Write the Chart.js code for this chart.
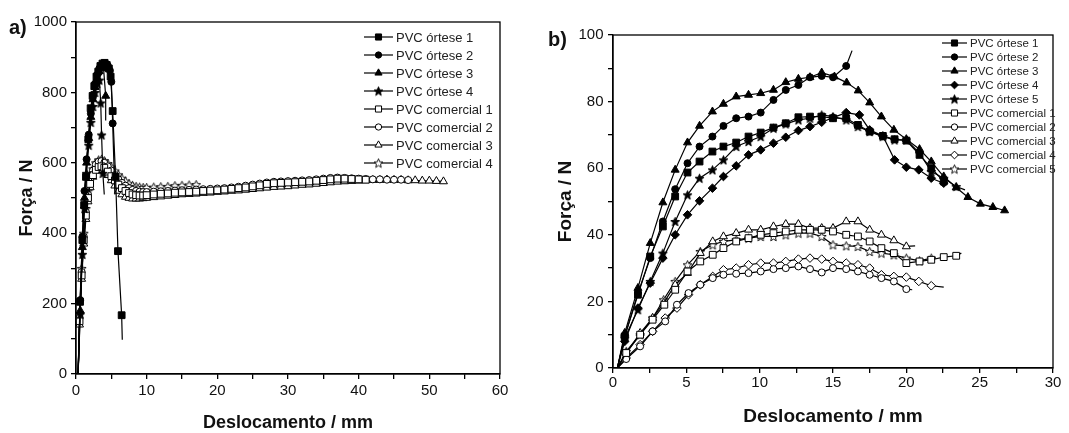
<!DOCTYPE html>
<html>
<head>
<meta charset="utf-8">
<script src="https://cdn.jsdelivr.net/npm/chart.js@4.4.1/dist/chart.umd.min.js"></script>
<style>
  html, body { margin: 0; padding: 0; background: #fff; }
  body { width: 1069px; height: 433px; position: relative; overflow: hidden; font-family: "Liberation Sans", Arial, sans-serif; }
  #wrapA { position: absolute; left: 0; top: 0; width: 540px; height: 433px; }
  #wrapB { position: absolute; left: 540px; top: 0; width: 529px; height: 433px; }
  .tag { position: absolute; font-weight: bold; font-size: 20px; color: #111; line-height: 1; }
</style>
</head>
<body>
<div id="wrapA"><canvas id="chartA" width="540" height="433"></canvas></div>
<div id="wrapB"><canvas id="chartB" width="529" height="433"></canvas></div>
<div class="tag" style="left:9px;top:17px">a)</div>
<div class="tag" style="left:548px;top:29px">b)</div>
<script>
// ---------- panel a) data ----------
var aLabels = ['PVC órtese 1', 'PVC órtese 2', 'PVC órtese 3', 'PVC órtese 4',
               'PVC comercial 1', 'PVC comercial 2', 'PVC comercial 3', 'PVC comercial 4'];

var aOrt1X = [0.3, 0.57, 0.9, 1.15, 1.41, 1.74, 2.07, 2.35, 2.59, 2.9, 3.15, 3.45, 3.75, 4.05, 4.35, 4.65, 4.9, 5.19, 5.6, 5.94, 6.46, 6.55];
var aOrt1Y = [0, 205, 380, 480, 560, 667, 755, 790, 818, 845, 859, 875, 882, 884, 878, 868, 845, 747, 560, 349, 167, 97];
var aOrt2X = [0.3, 0.6, 0.9, 1.2, 1.5, 1.8, 2.1, 2.4, 2.7, 3.0, 3.3, 3.6, 3.9, 4.2, 4.5, 4.8, 5.0, 5.19, 5.5];
var aOrt2Y = [0, 210, 390, 520, 610, 680, 740, 790, 825, 850, 868, 878, 882, 882, 876, 862, 830, 712, 510];
var aOrt3X = [0.3, 0.6, 0.9, 1.2, 1.5, 1.8, 2.1, 2.4, 2.7, 3.0, 3.3, 3.6, 3.9, 4.2, 4.2];
var aOrt3Y = [0, 180, 360, 500, 600, 670, 730, 780, 815, 840, 860, 870, 868, 790, 720];
var aOrt4X = [0.3, 0.6, 0.9, 1.2, 1.5, 1.8, 2.1, 2.4, 2.7, 3.0, 3.3, 3.5, 3.62, 3.8, 4.0];
var aOrt4Y = [0, 170, 340, 470, 570, 650, 715, 760, 800, 825, 835, 770, 679, 570, 510];

// shared displacement grid of the commercial samples (each series uses its first n values)
var aComX = [0.3, 0.5, 0.8, 1.1, 1.4, 1.7, 2.0, 2.4, 2.8, 3.2, 3.6, 4.0, 4.5, 5.0, 5.5, 6.0, 6.5, 7.0, 7.5, 8.0, 8.5, 9.0, 9.5, 10,
             11, 12, 13, 14, 15, 16, 17, 18, 19, 20, 21, 22, 23, 24, 25, 26, 27, 28, 29, 30, 31,
             32, 33, 34, 35, 36, 37, 38, 39, 40, 41, 42, 43, 44, 45, 46, 47, 48, 49, 50, 51, 52];
var aCom1Y = [0, 150, 280, 380, 450, 500, 540, 565, 580, 588, 590, 586, 575, 562, 550, 538, 528, 520, 514, 510, 508, 507, 507, 508,
              510, 512, 513, 515, 516, 517, 518, 520, 521, 522, 524, 526, 528, 530, 533, 536, 540, 542, 543, 544,
              545, 546, 547, 549, 551, 553, 555, 555, 554, 553, 552];
var aCom2Y = [0, 160, 290, 390, 460, 510, 550, 578, 595, 603, 605, 600, 590, 578, 565, 553, 543, 535, 528, 523, 520, 518, 517, 517,
              518, 519, 520, 521, 522, 523, 524, 525, 526, 527, 528, 530, 532, 535, 538, 541, 544, 546, 547, 548,
              549, 550, 551, 553, 555, 557, 558, 557, 556, 555, 554, 553, 553, 552, 552, 552, 551];
var aCom3Y = [0, 140, 270, 370, 440, 490, 530, 560, 578, 585, 585, 578, 565, 550, 535, 520, 510, 503, 500, 498, 498, 498, 499, 500,
              502, 504, 506, 508, 510, 511, 512, 514, 515, 517, 518, 520, 521, 523, 525, 527, 529, 531, 532, 533,
              535, 537, 538, 540, 542, 544, 546, 547, 548, 549, 550, 551, 551, 552, 551, 551, 550, 550, 549, 549, 548, 547];
var aCom4Y = [0, 170, 300, 400, 470, 520, 555, 583, 600, 608, 610, 606, 598, 588, 577, 566, 556, 548, 541, 536, 533, 531, 530, 530,
              531, 532, 533, 535, 536, 537, 538];

var aXTicks = [0, 10, 20, 30, 40, 50, 60];
var aYTicks = [0, 200, 400, 600, 800, 1000];

// ---------- panel b) data ----------
var bLabels = ['PVC órtese 1', 'PVC órtese 2', 'PVC órtese 3', 'PVC órtese 4', 'PVC órtese 5',
               'PVC comercial 1', 'PVC comercial 2', 'PVC comercial 3', 'PVC comercial 4', 'PVC comercial 5'];

var bOrt1X = [0.3, 0.8, 1.7, 2.54, 3.4, 4.24, 5.08, 5.9, 6.78, 7.53, 8.4, 9.24, 10.07, 10.94, 11.78, 12.64, 13.43, 14.23, 15.0, 15.9, 16.7, 17.5, 18.4, 19.2, 20.0, 20.9, 21.7, 22.55];
var bOrt1Y = [0, 9.5, 22, 33.5, 42.5, 51.5, 58.7, 62, 65, 66.5, 67.7, 69.5, 70.7, 72.2, 73.5, 75.3, 75.5, 75.5, 75, 75, 73, 71, 69.7, 68.7, 68.3, 64, 60, 56];
var bOrt2X = [0.3, 0.8, 1.7, 2.54, 3.4, 4.24, 5.08, 5.9, 6.78, 7.53, 8.4, 9.24, 10.07, 10.94, 11.78, 12.64, 13.43, 14.23, 15.0, 15.9, 16.3];
var bOrt2Y = [0, 9.5, 22.5, 33, 44, 53.7, 61.5, 66.5, 69.5, 72.7, 75, 75.5, 76.7, 80.5, 83.5, 85, 87.3, 87.7, 87.3, 90.7, 95.3];
var bOrt3X = [0.3, 0.8, 1.7, 2.54, 3.4, 4.24, 5.08, 5.9, 6.78, 7.53, 8.4, 9.24, 10.07, 10.94, 11.78, 12.64, 13.43, 14.23, 15.1, 15.93, 16.72,
              17.5, 18.3, 19.15, 20.0, 20.9, 21.7, 22.55, 23.4, 24.2, 25.05, 25.9, 26.7];
var bOrt3Y = [0, 10.5, 24, 37.5, 49.7, 59.5, 67.7, 72.7, 77, 79.3, 81.5, 82, 82.5, 83.5, 85.8, 86.8, 87.3, 88.7, 87.5, 85.7, 83.3,
              79.7, 75.5, 71.5, 68.7, 65.7, 62, 57.5, 54.2, 51.3, 49.3, 48.3, 47.3];
var bOrt4X = [0.3, 0.8, 1.7, 2.54, 3.4, 4.24, 5.08, 5.9, 6.78, 7.53, 8.4, 9.24, 10.07, 10.94, 11.78, 12.64, 13.43, 14.23, 15.0, 15.9, 16.8,
              17.5, 18.4, 19.2, 20.0, 20.85, 21.7, 22.55];
var bOrt4Y = [0, 8, 18, 25.5, 33, 40, 46, 50.2, 54, 57.5, 60.7, 64, 65.5, 67.5, 69.3, 71.3, 72.5, 73.8, 75.2, 76.7, 76,
              71.5, 69.7, 62.5, 60.3, 59.5, 57, 55.5];
var bOrt5X = [0.3, 0.8, 1.7, 2.54, 3.4, 4.24, 5.08, 5.9, 6.78, 7.53, 8.4, 9.24, 10.07, 10.94, 11.78, 12.64, 13.43, 14.23, 15.0, 15.9, 16.7,
              17.5, 18.4, 19.2, 20.0, 20.9, 21.7, 22.55, 23.4, 24.0];
var bOrt5Y = [0, 9, 17.5, 26, 34.5, 44, 52, 57, 59.5, 62.5, 66.5, 68, 69.5, 72, 73.3, 74.5, 75, 76, 75.5, 74.5, 72.5,
              71, 69.5, 68.5, 68.5, 64.5, 59, 57, 54.5, 53.5];

var bCom1X = [0.3, 0.9, 1.85, 2.7, 3.5, 4.24, 5.08, 5.95, 6.8, 7.53, 8.4, 9.24, 10.07, 10.94, 11.78, 12.64, 13.43, 14.23, 15.0, 15.9, 16.7,
              17.5, 18.3, 19.15, 20.0, 20.9, 21.7, 22.55, 23.4, 23.75];
var bCom1Y = [0, 4.5, 10, 14.5, 19, 23.5, 29, 32, 34, 36, 38, 39, 40, 40.5, 41, 41.5, 41.5, 41.5, 41, 40, 39.5,
              38, 36, 34.5, 31.5, 32, 32.5, 33.3, 33.7, 34.5];
var bCom2X = [0.3, 0.9, 1.85, 2.7, 3.56, 4.36, 5.15, 5.95, 6.8, 7.53, 8.4, 9.24, 10.07, 10.94, 11.78, 12.64, 13.43, 14.23, 15.0, 15.9, 16.7,
              17.5, 18.3, 19.15, 20.0, 20.4];
var bCom2Y = [0, 2.7, 6.5, 11, 14, 19, 22.5, 25, 27, 28, 28.3, 28.5, 29, 29.7, 30, 30.5, 29.7, 28.7, 30, 29.7, 29,
              28, 27, 26, 23.7, 23.5];
var bCom3X = [0.3, 0.9, 1.85, 2.7, 3.45, 4.24, 5.08, 5.95, 6.8, 7.53, 8.4, 9.24, 10.07, 10.94, 11.78, 12.64, 13.43, 14.23, 15.0, 15.9, 16.7,
              17.5, 18.3, 19.15, 20.0, 20.6];
var bCom3Y = [0, 4.5, 10.5, 15, 19.5, 25, 28.5, 34.5, 38, 39.5, 40.5, 41.5, 41.5, 42.5, 43.2, 43.2, 42, 42, 42, 44, 44,
              41.5, 40, 38.3, 36.5, 36.7];
var bCom4X = [0.3, 0.9, 1.85, 2.7, 3.56, 4.36, 5.15, 5.95, 6.8, 7.53, 8.4, 9.24, 10.07, 10.94, 11.78, 12.64, 13.43, 14.23, 15.0, 15.9, 16.7,
              17.5, 18.3, 19.15, 20.0, 20.85, 21.7, 22.55];
var bCom4Y = [0, 3, 7, 11, 15, 18, 22, 25, 27.5, 29.5, 30, 31, 31.5, 31.5, 32, 32.7, 33, 32.7, 32, 31.5, 31,
              30, 28, 27.5, 27.3, 26, 24.7, 24.3];
var bCom5X = [0.3, 0.9, 1.85, 2.7, 3.45, 4.24, 5.08, 5.95, 6.8, 7.53, 8.4, 9.24, 10.07, 10.94, 11.78, 12.64, 13.43, 14.23, 15.0, 15.9, 16.7,
              17.5, 18.3, 19.15, 20.0, 20.9, 21.7, 22.0];
var bCom5Y = [0, 5, 10, 15, 20.5, 26, 31, 35, 37, 38, 38.5, 39, 39.5, 39.5, 40, 40.5, 40.5, 39.5, 37, 36.7, 36.5,
              35, 34.5, 34, 33, 32.2, 33, 33];

var bXTicks = [0, 5, 10, 15, 20, 25, 30];
var bYTicks = [0, 20, 40, 60, 80, 100];

// ---------- markers ----------
function makeStar(size, fill) {
    var c = document.createElement('canvas');
    c.width = size;
    c.height = size;
    var g = c.getContext('2d');
    var cx = size / 2, cy = size / 2 + 0.5, R = size / 2 - 0.8, r = R * 0.45;
    g.beginPath();
    for (var i = 0; i < 10; i++) {
        var a = -Math.PI / 2 + i * Math.PI / 5;
        var rr = (i % 2) ? r : R;
        g.lineTo(cx + rr * Math.cos(a), cy + rr * Math.sin(a));
    }
    g.closePath();
    g.fillStyle = fill;
    g.fill();
    g.lineWidth = 0.9;
    g.strokeStyle = '#000';
    g.stroke();
    return c;
}
var starFilled = makeStar(11, '#000');
var starOpen = makeStar(11, '#fff');

var RADIUS = { rect: 4.8, circle: 3.5, triangle: 4.6, rectRot: 4.3, star: 4 };

function series(label, xs, ys, shape, filled, tail) {
    var pts = xs.map(function(x, i) { return {x: x, y: ys[i]}; });
    var style = shape === 'star' ? (filled ? starFilled : starOpen) : shape;
    var r = RADIUS[shape];
    return {
        label: label,
        data: pts,
        showLine: true,
        tension: 0,
        borderColor: '#000',
        borderWidth: 1.2,
        pointStyle: style,
        pointBackgroundColor: filled ? '#000' : '#fff',
        pointBorderColor: '#000',
        pointBorderWidth: 1,
        mkRadius: r,
        pointRadius: function(ctx) {
            var i = ctx.dataIndex;
            if (i === 0) return 0;
            if (tail && i === pts.length - 1) return 0;
            return r;
        },
        pointHoverRadius: 0
    };
}

// ---------- plugins ----------
var framePlugin = {
    id: 'frame',
    afterDatasetsDraw: function(chart) {
        var a = chart.chartArea, ctx = chart.ctx;
        ctx.save();
        ctx.strokeStyle = '#000';
        ctx.lineWidth = 1.3;
        ctx.strokeRect(a.left, a.top, a.right - a.left, a.bottom - a.top);
        ctx.restore();
    }
};

var legendPlugin = {
    id: 'pvcLegend',
    afterDraw: function(chart, args, opts) {
        var ctx = chart.ctx;
        ctx.save();
        chart.data.datasets.forEach(function(ds, i) {
            var y = opts.y + i * opts.dy;
            ctx.strokeStyle = '#000';
            ctx.lineWidth = 1.2;
            ctx.beginPath();
            ctx.moveTo(opts.x, y);
            ctx.lineTo(opts.x + opts.len, y);
            ctx.stroke();
            ctx.fillStyle = ds.pointBackgroundColor;
            ctx.strokeStyle = '#000';
            ctx.lineWidth = 1;
            Chart.helpers.drawPoint(ctx, {pointStyle: ds.pointStyle, radius: ds.mkRadius * 0.9, rotation: 0, borderWidth: 1},
                opts.x + opts.len / 2, y);
            ctx.fillStyle = '#222';
            ctx.font = opts.font;
            ctx.textBaseline = 'middle';
            ctx.textAlign = 'left';
            ctx.fillText(ds.label, opts.x + opts.len + 3, y + 1);
        });
        ctx.restore();
    }
};

function axis(min, max, step, labelEvery, ticks, title, titleSize, titlePad, tickPad, width, height) {
    return {
        type: 'linear',
        min: min,
        max: max,
        afterFit: function(scale) {
            if (width) scale.width = width;
            if (height) scale.height = height;
        },
        ticks: {
            stepSize: step,
            autoSkip: false,
            maxRotation: 0,
            padding: tickPad,
            color: '#111',
            font: {family: '"Liberation Sans", Arial, sans-serif', size: 15},
            callback: function(v) { return ticks.indexOf(v) >= 0 ? v : ''; }
        },
        grid: {display: true, drawOnChartArea: false, drawTicks: true, tickLength: 5, color: '#000', lineWidth: 1.3},
        border: {display: true, color: '#000', width: 1.3},
        title: {
            display: true,
            text: title,
            color: '#111',
            padding: titlePad,
            font: {family: '"Liberation Sans", Arial, sans-serif', size: titleSize, weight: 'bold', lineHeight: 1}
        }
    };
}

Chart.defaults.animation = false;

new Chart(document.getElementById('chartA'), {
    type: 'scatter',
    data: {
        datasets: [
            series(aLabels[0], aOrt1X, aOrt1Y, 'rect', true, true),
            series(aLabels[1], aOrt2X, aOrt2Y, 'circle', true, true),
            series(aLabels[2], aOrt3X, aOrt3Y, 'triangle', true, true),
            series(aLabels[3], aOrt4X, aOrt4Y, 'star', true, true),
            series(aLabels[4], aComX.slice(0, aCom1Y.length), aCom1Y, 'rect', false, false),
            series(aLabels[5], aComX.slice(0, aCom2Y.length), aCom2Y, 'circle', false, false),
            series(aLabels[6], aComX.slice(0, aCom3Y.length), aCom3Y, 'triangle', false, false),
            series(aLabels[7], aComX.slice(0, aCom4Y.length), aCom4Y, 'star', false, false)
        ]
    },
    options: {
        responsive: false,
        events: [],
        layout: {padding: {left: 0, top: 22, right: 40, bottom: 0}},
        scales: {
            x: axis(0, 60, 5, 10, aXTicks, 'Deslocamento / mm', 18, {top: 0, bottom: 1}, 3, 0, 59),
            y: axis(0, 1000, 100, 200, aYTicks, 'Força / N', 18, {top: 18, bottom: 0}, 4, 76, 0)
        },
        plugins: {
            legend: {display: false},
            tooltip: {enabled: false},
            pvcLegend: {x: 364, y: 37, dy: 18, len: 29, font: '13px "Liberation Sans", Arial, sans-serif'}
        }
    },
    plugins: [framePlugin, legendPlugin]
});

new Chart(document.getElementById('chartB'), {
    type: 'scatter',
    data: {
        datasets: [
            series(bLabels[0], bOrt1X, bOrt1Y, 'rect', true, false),
            series(bLabels[1], bOrt2X, bOrt2Y, 'circle', true, true),
            series(bLabels[2], bOrt3X, bOrt3Y, 'triangle', true, false),
            series(bLabels[3], bOrt4X, bOrt4Y, 'rectRot', true, false),
            series(bLabels[4], bOrt5X, bOrt5Y, 'star', true, true),
            series(bLabels[5], bCom1X, bCom1Y, 'rect', false, true),
            series(bLabels[6], bCom2X, bCom2Y, 'circle', false, true),
            series(bLabels[7], bCom3X, bCom3Y, 'triangle', false, true),
            series(bLabels[8], bCom4X, bCom4Y, 'rectRot', false, true),
            series(bLabels[9], bCom5X, bCom5Y, 'star', false, true)
        ]
    },
    options: {
        responsive: false,
        events: [],
        layout: {padding: {left: 0, top: 35, right: 16, bottom: 0}},
        scales: {
            x: axis(0, 30, 2.5, 5, bXTicks, 'Deslocamento / mm', 19, {top: 0, bottom: 7}, 1, 0, 65),
            y: axis(0, 100, 10, 20, bYTicks, 'Força / N', 19, {top: 16, bottom: 0}, 4.5, 73, 0)
        },
        plugins: {
            legend: {display: false},
            tooltip: {enabled: false},
            pvcLegend: {x: 402, y: 43, dy: 14, len: 25, font: '11.5px "Liberation Sans", Arial, sans-serif'}
        }
    },
    plugins: [framePlugin, legendPlugin]
});
</script>
</body>
</html>
